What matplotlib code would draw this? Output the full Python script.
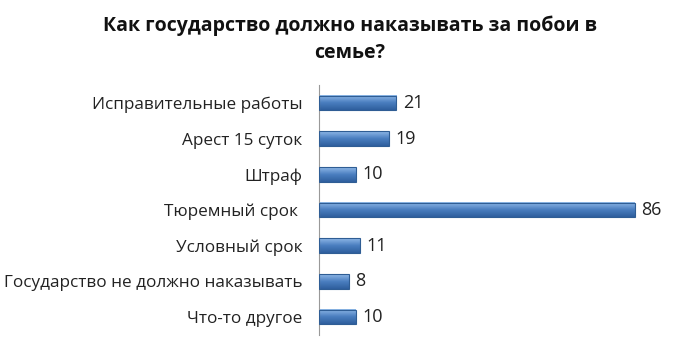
import numpy as np
import matplotlib.pyplot as plt
from matplotlib.colors import LinearSegmentedColormap

# data
categories = ["Исправительные работы", "Арест 15 суток", "Штраф", "Тюремный срок ",
              "Условный срок", "Государство не должно наказывать", "Что-то другое"]
values = [21, 19, 10, 86, 11, 8, 10]
title = "Как государство должно наказывать за побои в\nсемье?"

plt.rcParams['font.family'] = ['Open Sans', 'DejaVu Sans']

fig = plt.figure(figsize=(7, 3.5), dpi=100)
ax = fig.add_axes([0.456, 0.043, 0.472, 0.714])

# vertical gradient like the office-style bars
grad = LinearSegmentedColormap.from_list('bar', ['#8fb8e8', '#4a7ebf', '#2f5f9e'])
pos = list(range(len(categories)))
h = 0.41
bars = ax.barh(pos, values, height=h, color='#4a7ebf', edgecolor='#2f5d94', linewidth=0.8, zorder=2)
g = np.linspace(0, 1, 50).reshape(-1, 1)
for p, v in zip(pos, values):
    ax.imshow(g, cmap=grad, aspect='auto', extent=(0, v, p + h / 2, p - h / 2), zorder=2.5)
    ax.text(v + 1.8, p, str(v), va='center', ha='left', fontsize=13, color='#222222')
for b in bars:
    b.set_facecolor('none')
    b.set_zorder(3)

ax.set_yticks(pos)
ax.set_yticklabels(categories, fontsize=12.3, color='#222222')
ax.set_ylim(len(categories) - 0.5, -0.5)
ax.set_xlim(0, 90)
ax.set_xticks([])
ax.tick_params(axis='y', length=0, pad=12)
for s in ['top', 'right', 'bottom']:
    ax.spines[s].set_visible(False)
ax.spines['left'].set_color('#999999')

fig.text(0.5, 0.955, title, ha='center', va='top', fontsize=14, fontweight='bold',
         linespacing=1.45, color='#111111')

fig.savefig('out.png', dpi=100)
